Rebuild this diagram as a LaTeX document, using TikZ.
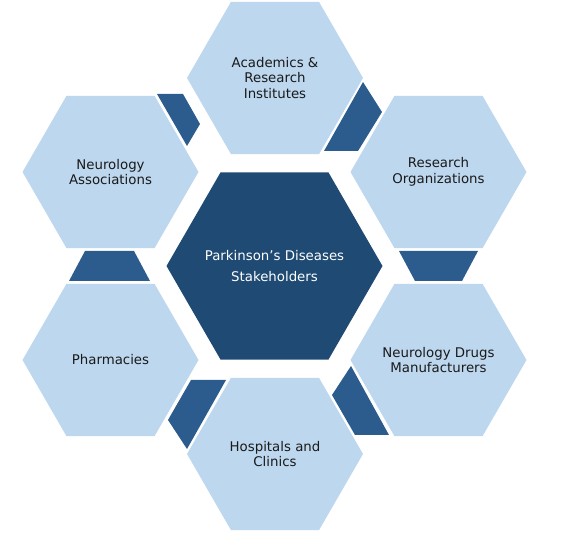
\documentclass[tikz,border=0pt]{standalone}
\usepackage{fontspec}
\setmainfont{DejaVu Sans}
\usetikzlibrary{shapes.geometric}
\definecolor{azulclaro}{HTML}{BDD7EE}
\definecolor{marino}{HTML}{1F4A73}
\definecolor{azulmedio}{HTML}{2B5C8D}
\definecolor{textoosc}{HTML}{1A1A1A}
\tikzset{
  hexext/.style={regular polygon, regular polygon sides=6, minimum size=132pt, inner sep=0pt,
                 fill=azulclaro},
  hexcentro/.style={regular polygon, regular polygon sides=6, minimum size=162pt, inner sep=0pt,
                 fill=marino},
  rotulo/.style={align=center, text=textoosc, font=\fontsize{10}{11.6}\selectfont},
  rotulocentro/.style={align=center, text=white, font=\fontsize{10}{15.75}\selectfont},
  enlace/.style={fill=azulmedio}
}
\begin{document}
\begin{tikzpicture}[x=0.75pt, y=-0.75pt]
  \useasboundingbox (0,0) rectangle (568,534);
  % piezas de enlace entre hexagonos
  \fill [enlace] (157,94) -- (183,94) -- (200,124) -- (187,146) -- cycle;
  \fill [enlace] (324,151) -- (363,82) -- (382,112) -- (358,151) -- cycle;
  \fill [enlace] (399,251) -- (478,251) -- (462,281) -- (415,281) -- cycle;
  \fill [enlace] (351,366) -- (389,435) -- (355,435) -- (332,395) -- cycle;
  \fill [enlace] (191,380) -- (226,380) -- (187,449) -- (168,420) -- cycle;
  \fill [enlace] (69,281) -- (150,281) -- (134,251) -- (85,251) -- cycle;
  \node (centro) [hexcentro] at (274.5,266) {};
  \node at (centro.center) [rotulocentro] {Parkinson’s Diseases\\ Stakeholders};
  \node (acad) [hexext] at (275,78) {};
  \node at (acad.center) [rotulo] {Academics \&\\ Research\\ Institutes};
  \node (inv) [hexext] at (438.5,172) {};
  \node at (inv.center) [rotulo] {Research\\ Organizations};
  \node (fab) [hexext] at (438.5,360) {};
  \node at (fab.center) [rotulo] {Neurology Drugs\\ Manufacturers};
  \node (hosp) [hexext] at (275,454) {};
  \node at (hosp.center) [rotulo] {Hospitals and\\ Clinics};
  \node (farm) [hexext] at (110.5,360) {};
  \node at (farm.center) [rotulo] {Pharmacies};
  \node (asoc) [hexext] at (110.5,172) {};
  \node at (asoc.center) [rotulo] {Neurology\\ Associations};
\end{tikzpicture}
\end{document}
